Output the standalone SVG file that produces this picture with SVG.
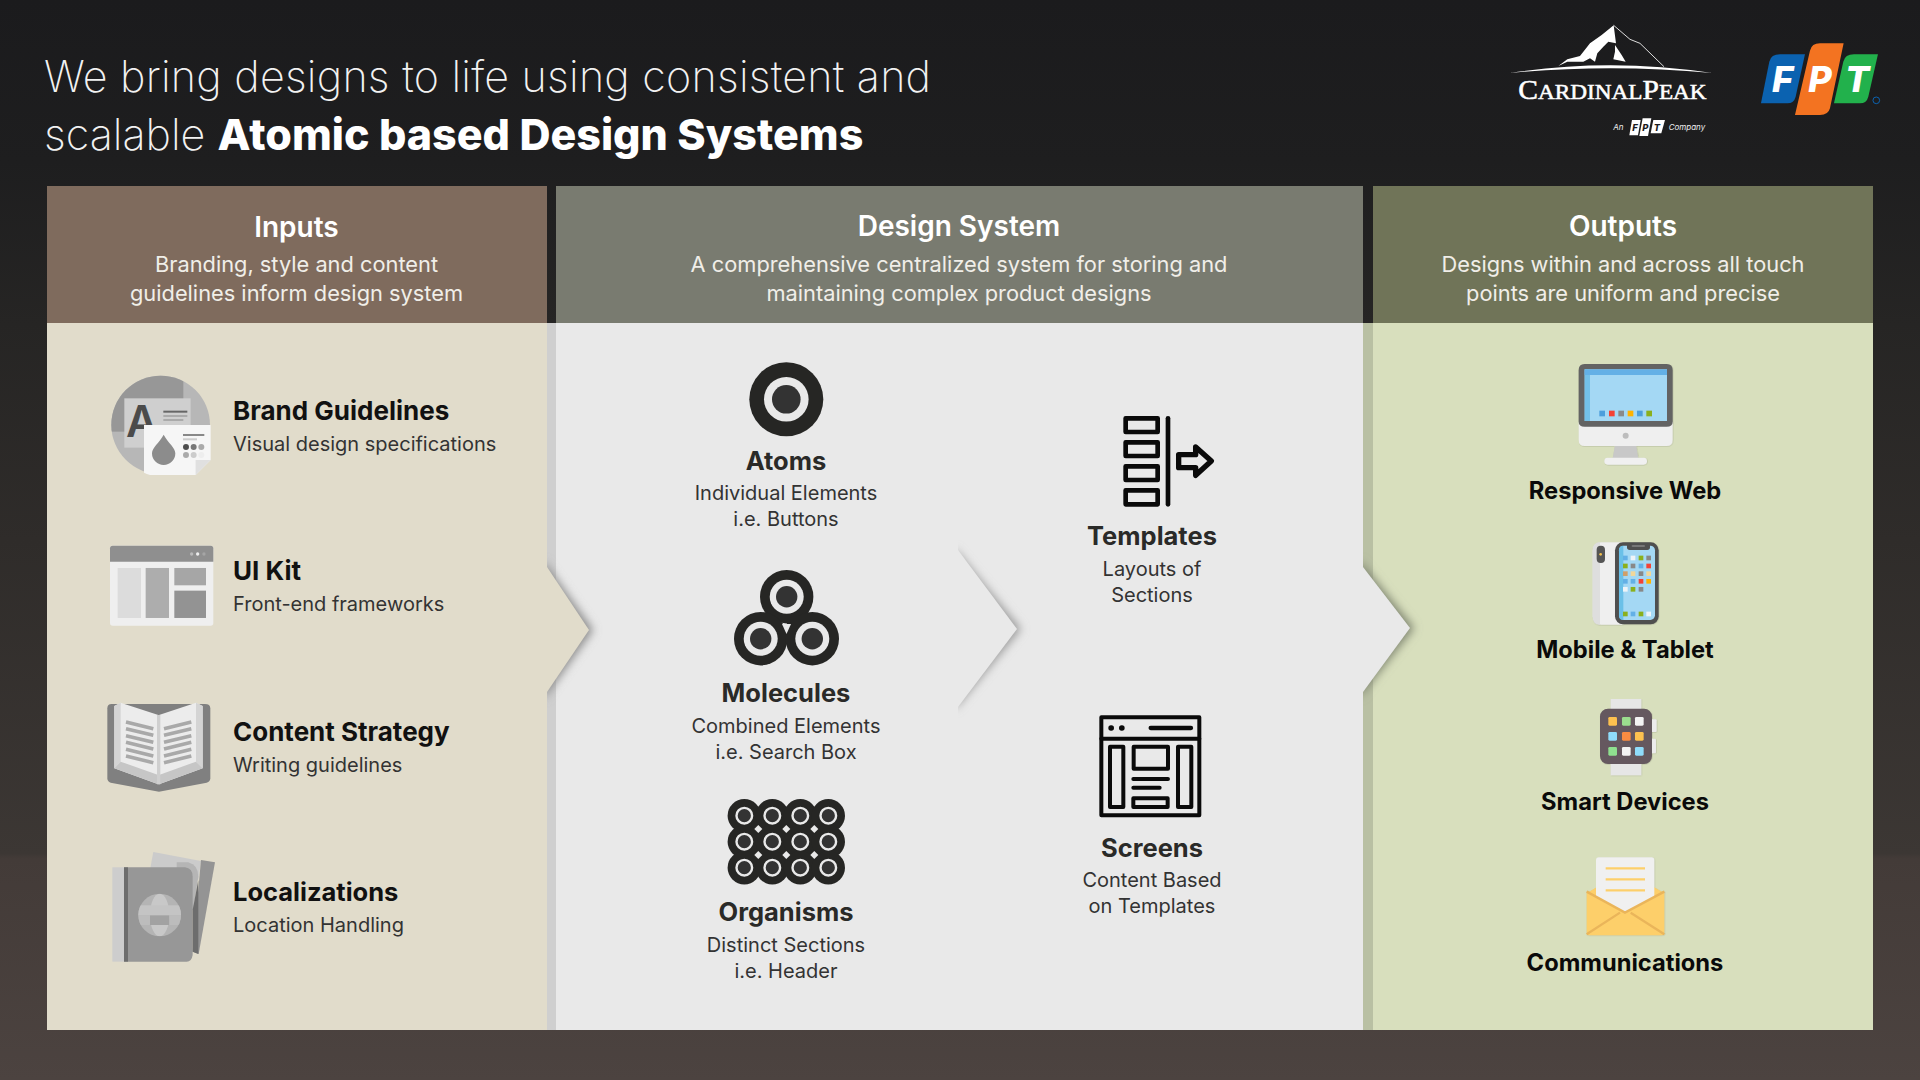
<svg xmlns="http://www.w3.org/2000/svg" width="1920" height="1080" viewBox="0 0 1920 1080">
<style>
text{font-family:"Inter","Noto Sans",sans-serif}
.h{font-size:28px;font-weight:600;fill:#fff;text-anchor:middle}
.hs{font-size:21.8px;font-weight:400;fill:#f0eee8;text-anchor:middle}
.t{font-size:26px;font-weight:700;fill:#111}
.c{text-anchor:middle;fill:#2a2a28;font-size:25.5px}
.r{text-anchor:middle;fill:#0a0a0a;font-size:23.7px}
.s{font-size:20px;font-weight:400;fill:#333}
.ic{fill:#262624}
.st{fill:none;stroke:#0a0a0a;stroke-width:14;stroke-linejoin:round;stroke-linecap:round}
.st2{fill:none;stroke:#0a0a0a;stroke-width:12;stroke-linejoin:round;stroke-linecap:round}
</style>
<defs>
<linearGradient id="bg" x1="0" y1="0" x2="0" y2="1"><stop offset="0" stop-color="#1b1b1d"/><stop offset=".15" stop-color="#1e1e1f"/><stop offset=".3" stop-color="#262524"/><stop offset=".5" stop-color="#2f2c2a"/><stop offset=".79" stop-color="#3c3734"/><stop offset=".795" stop-color="#433b38"/><stop offset="1" stop-color="#4c4340"/></linearGradient>
<filter id="sh" x="-60%" y="-20%" width="220%" height="140%"><feGaussianBlur stdDeviation="5"/></filter>
<filter id="ds" x="-20%" y="-20%" width="140%" height="140%"><feDropShadow dx="1" dy="1" stdDeviation="1.5" flood-color="#000" flood-opacity=".25"/></filter>
<clipPath id="cc"><circle cx="212" cy="225" r="148"/></clipPath>
<clipPath id="gl"><circle cx="209" cy="705" r="64"/></clipPath>
<clipPath id="c1"><rect x="547" y="500" width="70" height="260"/></clipPath>
<clipPath id="c2"><rect x="958" y="500" width="80" height="260"/></clipPath>
<clipPath id="c3"><rect x="1363" y="500" width="80" height="260"/></clipPath>
</defs>
<rect width="1920" height="1080" fill="url(#bg)"/>
<g id="title"><text x="44" y="92" font-size="43" font-weight="250" letter-spacing=".23" fill="#f2f2f2">We bring designs to life using consistent and</text>
<text x="44" y="150" font-size="43" font-weight="250" fill="#f2f2f2">scalable <tspan font-weight="800" fill="#fff">Atomic based Design Systems</tspan></text></g>
<g id="logo-cardinal" transform="translate(1480 0) scale(.3333)">
<path d="M235 198 L262 178 L300 168 L330 130 L365 105 L401 76 L408 130 L385 125 L370 140 L352 160 L345 185 L330 175 L310 185 L262 185Z" fill="#fff"/>
<path d="M405 135 L425 165 L437 185 L400 178 L405 155Z" fill="#fff"/>
<path d="M401 76 L450 118 L480 130 L552 200" fill="none" stroke="#ddd" stroke-width="3"/>
<path d="M90 219 Q390 172 697 219 Q390 190 90 219Z" fill="#fff"/>
<text x="115" y="298" font-size="84" textLength="565" lengthAdjust="spacingAndGlyphs" stroke="#fff" stroke-width="1.6" style="font-family:'Liberation Serif',serif" fill="#fff">C<tspan font-size="66">ARDINAL</tspan>P<tspan font-size="66">EAK</tspan></text>
<text x="400" y="390" font-size="24" font-style="italic" fill="#eee">An</text>
<g fill="#fff"><path d="M456 360H482L474 406H448Z"/><path d="M488 355H514L504 408H478Z"/><path d="M520 360H555L544 400H512Z"/></g>
<text x="465" y="394" font-size="28" font-weight="800" font-style="italic" text-anchor="middle" fill="#1b1b1d">F</text>
<text x="496" y="394" font-size="28" font-weight="800" font-style="italic" text-anchor="middle" fill="#1b1b1d">P</text>
<text x="531" y="394" font-size="28" font-weight="800" font-style="italic" text-anchor="middle" fill="#1b1b1d">T</text>
<text x="566" y="390" font-size="24" font-style="italic" fill="#eee">Company</text>
</g>
<g id="logo-fpt" transform="translate(1480 0) scale(.3333)">
<path d="M900 163H975L947 290Q942 310 922 310H843L868 185Q873 163 900 163Z" fill="#0b62b0"/>
<path d="M1020 130H1091L1050 325Q1045 345 1020 345H945L990 152Q995 130 1020 130Z" fill="#f37321"/>
<path d="M1122 163H1194L1165 290Q1160 310 1140 310H1062L1090 185Q1095 163 1122 163Z" fill="#22b14c"/>
<text x="908" y="276" font-size="108" font-weight="800" font-style="italic" text-anchor="middle" fill="#fff">F</text>
<text x="1020" y="276" font-size="108" font-weight="800" font-style="italic" text-anchor="middle" fill="#fff">P</text>
<text x="1132" y="276" font-size="108" font-weight="800" font-style="italic" text-anchor="middle" fill="#fff">T</text>
<circle cx="1189" cy="301" r="10" fill="none" stroke="#0b62b0" stroke-width="3"/>
</g>

<g id="panels">
<rect x="47" y="186" width="500" height="137" fill="#7f6b5d"/>
<rect x="556" y="186" width="807" height="137" fill="#797b70"/>
<rect x="1373" y="186" width="500" height="137" fill="#707458"/>
<rect x="1373" y="323" width="500" height="707" fill="#d8dfbd"/>
<rect x="1363" y="323" width="10" height="707" fill="#b9c0a3"/>
<rect x="547" y="323" width="816" height="707" fill="#e9e9e9"/>
<rect x="547" y="323" width="9" height="707" fill="#cfcfcf"/>
<rect x="47" y="323" width="500" height="707" fill="#e1dccb"/>
</g>
<g id="connectors">
<g clip-path="url(#c1)"><path d="M543 560L593 630L543 700Z" fill="#8a8a8a" filter="url(#sh)"/></g>
<path d="M547 567L589 630L547 692Z" fill="#e1dccb"/>
<g clip-path="url(#c2)"><path d="M954 548L1021 629L954 710Z" fill="#9a9a9a" filter="url(#sh)"/></g>
<path d="M958 550L1017 629L958 707Z" fill="#e9e9e9"/>
<g clip-path="url(#c3)"><path d="M1359 560L1414 628L1359 698Z" fill="#7e8470" filter="url(#sh)"/></g>
<path d="M1363 567L1410 628L1363 692Z" fill="#e9e9e9"/>
</g>

<g id="brand-guidelines">
<g transform="translate(90 350) scale(.3333)">
<g clip-path="url(#cc)"><rect x="60" y="70" width="310" height="310" fill="#b7b7b7"/><rect x="60" y="70" width="220" height="175" fill="#979797"/></g>
<rect x="103" y="145" width="199" height="148" fill="#cfcfcf"/>
<text x="155" y="260" font-size="130" font-weight="600" text-anchor="middle" fill="#4b4b4b">A</text>
<rect x="220" y="182" width="72" height="6" fill="#666"/><rect x="220" y="195" width="72" height="6" fill="#aaa"/><rect x="220" y="207" width="60" height="6" fill="#aaa"/>
<path d="M162 225H362V330L317 375H180Q170 372 162 368Z" fill="#f6f6f6"/>
<path d="M317 330H362L317 375Z" fill="#e0e0e0"/>
<path d="M221 254C235 280 256 292 256 310A35 35 0 0 1 186 310C186 292 207 280 221 254Z" fill="#8c8c8c"/>
<rect x="279" y="252" width="64" height="6" fill="#888"/><rect x="279" y="265" width="42" height="6" fill="#ccc"/>
<circle cx="288" cy="291" r="9" fill="#4d4d4d"/><circle cx="311" cy="291" r="9" fill="#777"/><circle cx="334" cy="291" r="9" fill="#aaa"/>
<circle cx="288" cy="315" r="9" fill="#aaa"/><circle cx="311" cy="315" r="9" fill="#ccc"/><circle cx="334" cy="315" r="9" fill="#eee"/>
</g>
<text class="t" x="233" y="420">Brand Guidelines</text><text class="s" x="233" y="451">Visual design specifications</text>
</g>
<g id="ui-kit">
<g transform="translate(90 350) scale(.3333)">
<rect x="60" y="587" width="310" height="240" rx="8" fill="#efefef"/>
<path d="M60 635V595Q60 587 68 587H362Q370 587 370 595V635Z" fill="#8f8f8f"/>
<rect x="83" y="654" width="70" height="150" fill="#dcdcdc"/><rect x="167" y="654" width="70" height="150" fill="#adadad"/><rect x="253" y="654" width="95" height="52" fill="#a6a6a6"/><rect x="253" y="722" width="95" height="82" fill="#939393"/>
<circle cx="305" cy="612" r="5" fill="#bbb"/><circle cx="323" cy="612" r="5" fill="#eee"/><circle cx="342" cy="612" r="5" fill="#a5a5a5"/>
</g>
<text class="t" x="233" y="580">UI Kit</text><text class="s" x="233" y="611">Front-end frameworks</text>
</g>
<g id="content-strategy">
<g transform="translate(90 680) scale(.3333)">
<path d="M52 85Q52 72 65 72H345Q361 72 361 85V295Q361 305 350 308L207 335L62 308Q52 305 52 295Z" fill="#808080"/>
<path d="M73 265V78L92 68L205 105V313Z" fill="#ececec"/><path d="M338 265V78L318 68L207 105V313Z" fill="#ececec"/>
<path d="M73 78L92 68V245L73 265Z" fill="#d4d4d4"/><path d="M338 78L318 68V245L338 265Z" fill="#d4d4d4"/>
<path d="M73 265L92 245L205 285V313Z" fill="#c6c6c6"/><path d="M338 265L318 245L207 285V313Z" fill="#c6c6c6"/>
<path d="M201 105H211V313H201Z" fill="#cfcfcf"/>
<g stroke="#a9a9a9" stroke-width="11" fill="none"><path d="M108 126L190 146M108 146L190 166M108 167L190 187M108 187L190 207M108 208L190 228M108 228L190 248"/><path d="M304 126L222 146M304 146L222 166M304 167L222 187M304 187L222 207M304 208L222 228M304 228L222 248"/></g>
</g>
<text class="t" x="233" y="741">Content Strategy</text><text class="s" x="233" y="772">Writing guidelines</text>
</g>
<g id="localizations">
<g transform="translate(90 680) scale(.3333)">
<path d="M190 516L333 543L325 600L180 570Z" fill="#cbcbcb"/>
<path d="M333 540L375 547L326 822L308 815Z" fill="#949494"/>
<path d="M260 547H295Q325 555 325 590L310 690H260Z" fill="#b5b5b5"/>
<path d="M102 562H285Q308 565 308 590V825Q305 845 290 845H102Z" fill="#979797"/>
<rect x="67" y="562" width="35" height="283" fill="#cdcdcd"/><rect x="102" y="562" width="12" height="283" fill="#6d6d6d"/>
<path d="M308 690L325 600V822L308 815Z" fill="#6d6d6d"/>
<g clip-path="url(#gl)"><rect x="140" y="640" width="140" height="130" fill="#b4b4b4"/><ellipse cx="209" cy="705" rx="29" ry="64" fill="#c8c8c8"/><rect x="140" y="676" width="140" height="30" fill="#c4c4c4"/><rect x="180" y="706" width="58" height="29" fill="#a2a2a2"/><rect x="140" y="706" width="40" height="29" fill="#bcbcbc"/><rect x="238" y="706" width="40" height="29" fill="#bcbcbc"/></g>
</g>
<text class="t" x="233" y="901" style="font-size:25.5px">Localizations</text><text class="s" x="233" y="932">Location Handling</text>
</g>

<g id="atoms">
<circle cx="786.3" cy="399.3" r="37" class="ic"/><circle cx="786.3" cy="399.3" r="22.3" fill="#e9e9e9"/><circle cx="786.3" cy="399.3" r="14.3" fill="#333"/>
<text class="t c" x="786" y="470">Atoms</text><text class="s" text-anchor="middle" x="786" y="500">Individual Elements</text><text class="s" text-anchor="middle" x="786" y="526">i.e. Buttons</text>
</g>
<g id="molecules">
<path d="M787 612L787 625L770 640H803Z" class="ic"/>
<circle cx="786.7" cy="596.7" r="26.7" class="ic"/><circle cx="786.7" cy="596.7" r="17" fill="#e9e9e9"/><circle cx="786.7" cy="596.7" r="10.7" fill="#333"/>
<circle cx="760.7" cy="638.7" r="26.7" class="ic"/><circle cx="760.7" cy="638.7" r="17" fill="#e9e9e9"/><circle cx="760.7" cy="638.7" r="10.7" fill="#333"/>
<circle cx="812.3" cy="638.7" r="26.7" class="ic"/><circle cx="812.3" cy="638.7" r="17" fill="#e9e9e9"/><circle cx="812.3" cy="638.7" r="10.7" fill="#333"/>
<path d="M782 624H791L786.5 634Z" fill="#e9e9e9"/>
<text class="t c" x="786" y="702">Molecules</text><text class="s" text-anchor="middle" x="786" y="733">Combined Elements</text><text class="s" text-anchor="middle" x="786" y="759">i.e. Search Box</text>
</g>
<g id="organisms">
<rect x="744" y="816" width="84" height="52" class="ic"/>
<g class="ic"><circle cx="744.3" cy="815.7" r="16.7"/><circle cx="772.3" cy="815.7" r="16.7"/><circle cx="800.3" cy="815.7" r="16.7"/><circle cx="828.3" cy="815.7" r="16.7"/><circle cx="744.3" cy="841.7" r="16.7"/><circle cx="772.3" cy="841.7" r="16.7"/><circle cx="800.3" cy="841.7" r="16.7"/><circle cx="828.3" cy="841.7" r="16.7"/><circle cx="744.3" cy="867.7" r="16.7"/><circle cx="772.3" cy="867.7" r="16.7"/><circle cx="800.3" cy="867.7" r="16.7"/><circle cx="828.3" cy="867.7" r="16.7"/></g>
<g fill="#333" stroke="#e9e9e9" stroke-width="2.4"><circle cx="744.3" cy="815.7" r="7.8"/><circle cx="772.3" cy="815.7" r="7.8"/><circle cx="800.3" cy="815.7" r="7.8"/><circle cx="828.3" cy="815.7" r="7.8"/><circle cx="744.3" cy="841.7" r="7.8"/><circle cx="772.3" cy="841.7" r="7.8"/><circle cx="800.3" cy="841.7" r="7.8"/><circle cx="828.3" cy="841.7" r="7.8"/><circle cx="744.3" cy="867.7" r="7.8"/><circle cx="772.3" cy="867.7" r="7.8"/><circle cx="800.3" cy="867.7" r="7.8"/><circle cx="828.3" cy="867.7" r="7.8"/></g>
<g fill="#e9e9e9"><path d="M758.3 825L762.3 829L758.3 833L754.3 829Z"/><path d="M786.3 825L790.3 829L786.3 833L782.3 829Z"/><path d="M814.3 825L818.3 829L814.3 833L810.3 829Z"/><path d="M758.3 851L762.3 855L758.3 859L754.3 855Z"/><path d="M786.3 851L790.3 855L786.3 859L782.3 855Z"/><path d="M814.3 851L818.3 855L814.3 859L810.3 855Z"/></g>
<text class="t c" x="786" y="921">Organisms</text><text class="s" text-anchor="middle" x="786" y="952">Distinct Sections</text><text class="s" text-anchor="middle" x="786" y="978">i.e. Header</text>
</g>
<g id="templates">
<g transform="translate(1090 400) scale(.3333)">
<rect class="st" x="107" y="55" width="96" height="41"/><rect class="st" x="107" y="127" width="96" height="41"/><rect class="st" x="107" y="199" width="96" height="41"/><rect class="st" x="107" y="271" width="96" height="42"/>
<path class="st" d="M234 55V313"/>
<path class="st" style="stroke-width:16" d="M266 164H317V141L364 183L317 226V203H266Z"/>
</g>
<text class="t c" x="1152" y="545">Templates</text><text class="s" text-anchor="middle" x="1152" y="576">Layouts of</text><text class="s" text-anchor="middle" x="1152" y="602">Sections</text>
</g>
<g id="screens">
<g transform="translate(1090 700) scale(.3333)">
<rect class="st2" x="34" y="52" width="294" height="294"/>
<path class="st2" d="M34 116H328"/>
<path class="st" d="M63 84H64M95 84H96" style="stroke-width:16"/><path class="st" d="M182 84H303" style="stroke-width:13"/>
<rect class="st2" x="60" y="140" width="40" height="181"/><rect class="st2" x="131" y="140" width="103" height="66"/><rect class="st2" x="264" y="140" width="40" height="181"/><rect class="st2" x="130" y="295" width="103" height="26"/>
<path class="st2" d="M130 237H234M130 263H209"/>
</g>
<text class="t c" x="1152" y="857">Screens</text><text class="s" text-anchor="middle" x="1152" y="887">Content Based</text><text class="s" text-anchor="middle" x="1152" y="913">on Templates</text>
</g>

<g id="responsive-web">
<g transform="translate(1560 350) scale(.3333)" filter="url(#ds)">
<path d="M165 285H228L235 325H158Z" fill="#c8c8c8"/>
<rect x="133" y="323" width="128" height="21" rx="10" fill="#f0f0f0"/>
<path d="M56 215H338V270Q338 288 320 288H74Q56 288 56 270Z" fill="#efefef"/>
<path d="M56 60Q56 42 74 42H320Q338 42 338 60V215Q338 230 320 230H74Q56 230 56 215Z" fill="#636363"/>
<rect x="74" y="58" width="247" height="155" fill="#a4d8f4"/><rect x="74" y="58" width="16" height="155" fill="#73c0e8"/><rect x="74" y="58" width="247" height="17" fill="#64b0e6"/>
<circle cx="197" cy="257" r="9" fill="#bdbdbd"/>
<rect x="118" y="182" width="17" height="17" fill="#4e9fdc"/><rect x="147" y="182" width="17" height="17" fill="#f44336"/><rect x="175" y="182" width="17" height="17" fill="#8a8a8a"/><rect x="203" y="182" width="17" height="17" fill="#ffb300"/><rect x="231" y="182" width="17" height="17" fill="#4e9fdc"/><rect x="259" y="182" width="17" height="17" fill="#8bb01b"/>
</g>
<text class="t r" x="1625" y="499">Responsive Web</text>
</g>
<g id="mobile-tablet">
<g transform="translate(1560 350) scale(.3333)" filter="url(#ds)">
<rect x="98" y="577" width="110" height="247" rx="25" fill="#efefef"/><path d="M98 600Q98 577 120 577V824Q98 824 98 800Z" fill="#dedede"/>
<rect x="110" y="587" width="25" height="52" rx="12" fill="#555"/><circle cx="122" cy="613" r="4" fill="#f3c04d"/>
<rect x="165" y="577" width="131" height="246" rx="24" fill="#505050"/>
<rect x="177" y="587" width="108" height="223" rx="14" fill="#a4d8f4"/><path d="M177 600Q177 587 190 587V810Q177 810 177 797Z" fill="#6ac0e8"/>
<path d="M201 585H270V592Q270 600 262 600H209Q201 600 201 592Z" fill="#505050"/>
<g fill="#63b0e6"><rect x="189" y="617" width="14" height="14"/><rect x="236" y="641" width="14" height="14"/><rect x="189" y="687" width="14" height="14"/><rect x="212" y="687" width="14" height="14"/><rect x="212" y="785" width="14" height="14"/></g>
<rect x="212" y="641" width="14" height="14" fill="#888"/>
<g fill="#8bb01b"><rect x="236" y="617" width="14" height="14"/><rect x="189" y="641" width="14" height="14"/><rect x="212" y="711" width="14" height="14"/><rect x="189" y="785" width="14" height="14"/><rect x="236" y="785" width="14" height="14"/></g>
<g fill="#eef4f8"><rect x="212" y="617" width="14" height="14"/><rect x="189" y="711" width="14" height="14"/><rect x="259" y="785" width="14" height="14"/></g>
<g fill="#888"><rect x="259" y="617" width="14" height="14"/><rect x="236" y="664" width="14" height="14"/><rect x="236" y="711" width="14" height="14"/></g>
<g fill="#f44336"><rect x="259" y="641" width="14" height="14"/><rect x="236" y="687" width="14" height="14"/></g>
<g fill="#f2d79a"><rect x="212" y="664" width="14" height="14"/><rect x="259" y="664" width="14" height="14"/></g>
<rect x="189" y="664" width="14" height="14" fill="#cf9f6a"/><rect x="259" y="687" width="14" height="14" fill="#ffb300"/>
<rect x="215" y="585" width="40" height="6" rx="3" fill="#777"/>
</g>
<text class="t r" x="1625" y="658">Mobile &amp; Tablet</text>
</g>
<g id="smart-devices">
<g transform="translate(1560 690) scale(.3333)" filter="url(#ds)">
<rect x="152" y="27" width="92" height="35" fill="#e6e6e6"/><rect x="152" y="218" width="92" height="38" fill="#e6e6e6"/>
<rect x="274" y="88" width="16" height="38" rx="3" fill="#ececec"/><rect x="274" y="146" width="14" height="44" rx="3" fill="#ececec"/>
<rect x="120" y="56" width="156" height="166" rx="24" fill="#65595f"/>
<rect x="145" y="81" width="26" height="26" rx="4" fill="#fdc14f"/><rect x="186" y="81" width="26" height="26" rx="4" fill="#9bde8e"/><rect x="225" y="81" width="26" height="26" rx="4" fill="#f3f3f3"/>
<rect x="145" y="126" width="26" height="26" rx="4" fill="#8fdcfb"/><rect x="186" y="126" width="26" height="26" rx="4" fill="#fa8c42"/><rect x="225" y="126" width="26" height="26" rx="4" fill="#fdc14f"/>
<rect x="145" y="171" width="26" height="26" rx="4" fill="#8fe08f"/><rect x="186" y="171" width="26" height="26" rx="4" fill="#f3f3f3"/><rect x="225" y="171" width="26" height="26" rx="4" fill="#8fdcfb"/>
</g>
<text class="t r" x="1625" y="810">Smart Devices</text>
</g>
<g id="communications">
<g transform="translate(1560 690) scale(.3333)" filter="url(#ds)">
<path d="M80 610L195 540L313 610V725Q313 736 302 736H91Q80 736 80 725Z" fill="#fdcf6a"/>
<path d="M108 510Q108 502 116 502H275Q283 502 283 510V620L195 666L108 620Z" fill="#f0f0f0"/>
<path d="M137 535H255M137 568H255M137 601H255" stroke="#fdcf6a" stroke-width="7" fill="none"/>
<path d="M80 605L195 668L313 605" fill="none" stroke="#eab55a" stroke-width="7"/>
<path d="M80 733L180 668M313 733L212 668" fill="none" stroke="#eab55a" stroke-width="7"/>
</g>
<text class="t r" x="1625" y="971">Communications</text>
</g>

<g id="headers">
<text class="h" x="296.5" y="237">Inputs</text><text class="hs" x="296.5" y="272">Branding, style and content</text><text class="hs" x="296.5" y="301">guidelines inform design system</text>
<text class="h" x="959" y="236">Design System</text><text class="hs" x="959" y="272">A comprehensive centralized system for storing and</text><text class="hs" x="959" y="301">maintaining complex product designs</text>
<text class="h" x="1623" y="236">Outputs</text><text class="hs" x="1623" y="272">Designs within and across all touch</text><text class="hs" x="1623" y="301">points are uniform and precise</text>
</g>
</svg>
